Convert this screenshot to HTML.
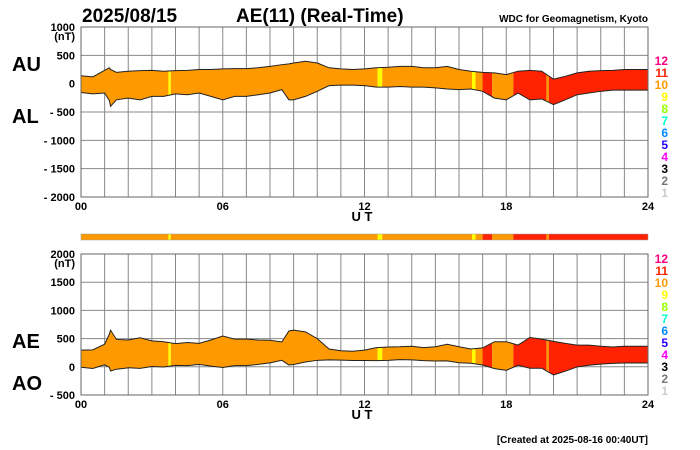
<!DOCTYPE html>
<html><head><meta charset="utf-8"><style>
body{margin:0;background:#fff}
svg{display:block;font-family:"Liberation Sans",Arial,sans-serif}
</style></head><body>
<svg id="c" width="700" height="450" viewBox="0 0 700 450">
<g id="g"></g>
</svg>
<script>
// ---- data (nT) ----
const times = [0,0.5,1,1.2,1.25,1.5,2,2.5,3,3.5,4,4.5,5,5.5,6,6.5,7,7.5,8,8.5,8.8,9,9.5,10,10.5,11,11.5,12,12.5,13,13.5,14,14.5,15,15.5,16,16.5,17,17.5,18,18.5,19,19.5,20,20.5,21,21.5,22,22.5,23,23.5,24];
const auValues = [140,120,235,280,250,200,220,230,235,220,230,235,250,250,260,265,265,280,305,335,350,365,395,365,280,260,250,260,280,290,305,305,280,280,305,250,220,200,190,160,220,235,220,80,130,190,220,230,235,250,250,250];
const alValues = [-155,-180,-165,-300,-400,-285,-255,-285,-225,-225,-180,-195,-165,-225,-285,-225,-225,-195,-165,-105,-285,-285,-225,-135,-35,-25,-25,-35,-60,-60,-50,-60,-60,-75,-95,-105,-95,-135,-255,-285,-165,-285,-270,-370,-285,-195,-165,-135,-115,-115,-115,-115];
const segStart = [0,3.7,3.8,12.55,12.75,16.55,16.7,17.0,17.4,18.3,19.7,19.8];
const segEnd   = [3.7,3.8,12.55,12.75,16.55,16.7,17.0,17.4,18.3,19.7,19.8,24];
const segStations = [10,9,10,9,10,9,10,11,10,11,10,11];
const topTicks = [1000,500,0,-500,-1000,-1500,-2000];
const topTickLabels = ["1000","500","0","- 500","- 1000","- 1500","- 2000"];
const botTicks = [2000,1500,1000,500,0,-500];
const botTickLabels = ["2000","1500","1000","500","0","- 500"];
const xTicks = [0,6,12,18,24];
const xTickLabels = ["00","06","12","18","24"];
const legendNums = [12,11,10,9,8,7,6,5,4,3,2,1];
const legendColors = ["#FF0080","#FF2200","#FF9900","#FFFF00","#99FF00","#00FFCC","#0088FF","#2200FF","#FF00FF","#000","#777","#ccc"];

const NS="http://www.w3.org/2000/svg";
const G=document.getElementById('g');
function el(t,a,p){const e=document.createElementNS(NS,t);for(const k in a)e.setAttribute(k,a[k]);(p||G).appendChild(e);return e;}
const X0=81,X1=648;
const x=h=>X0+(X1-X0)*h/24;
function yTop(v){return 27+(1000-v)*(197-27)/3000;}
function yBot(v){return 254+(2000-v)*(395-254)/2500;}
const stColor={9:"#FFFF00",10:"#FF9900",11:"#FF2200"};

function txt(s,xx,yy,opt,name){const t=el('text',Object.assign({x:xx,y:yy,'font-size':11,'font-weight':'bold',fill:'#000'},opt));t.textContent=s;

return t;}

function panel(id,yf,ticks,labels,gTop,gBot,upper,lower,legTop){
  const pg=el('g',{});
  
  
  for(let h=1;h<24;h++){const l=el('line',{x1:x(h),x2:x(h),y1:gTop,y2:gBot,stroke:'#888','stroke-width':1},pg);
    
    }
  ticks.forEach((v,i)=>{const yy=yf(v);
    const l=el('line',{x1:X0,x2:X1,y1:yy,y2:yy,stroke:'#888','stroke-width':1},pg);
    
    
    txt(labels[i],75,yy+4,{'text-anchor':'end'},'y-tick-label');});
  const pts=times.map((t,i)=>x(t)+','+yf(upper[i])).concat(times.map((t,i)=>x(t)+','+yf(lower[i])).reverse()).join(' ');
  segStart.forEach((s,i)=>{
    const cid=id+'clip'+i;
    const cp=el('clipPath',{id:cid},pg);
    el('rect',{x:x(s),y:gTop,width:x(segEnd[i])-x(s),height:gBot-gTop},cp);
    const p=el('polygon',{points:pts,fill:stColor[segStations[i]],'clip-path':'url(#'+cid+')'},pg);
    
    
  });
  const up=el('polyline',{points:times.map((t,i)=>x(t)+','+yf(upper[i])).join(' '),fill:'none',stroke:'#222','stroke-width':1},pg);
  
  
  const lo=el('polyline',{points:times.map((t,i)=>x(t)+','+yf(lower[i])).join(' '),fill:'none',stroke:'#222','stroke-width':1},pg);
  
  
  const fr=el('rect',{x:X0,y:gTop,width:X1-X0,height:gBot-gTop,fill:'none',stroke:'#666','stroke-width':1},pg);
  
  
  xTicks.forEach((h,i)=>txt(xTickLabels[i],x(h),gBot+13,{'text-anchor':'middle'},'x-tick-label'));
  txt('U T',362,gBot+24,{'font-size':13,'text-anchor':'middle'},'x-axis-title');
  txt('(nT)',75,gTop+13,{'text-anchor':'end'},'y-unit-label');
  legendNums.forEach((n,i)=>txt(String(n),668,legTop+i*12,{'text-anchor':'end','font-size':12,fill:legendColors[i]},'station-count-legend-'+n));
}
const aeValues=auValues.map((u,i)=>u-alValues[i]);
const aoValues=auValues.map((u,i)=>(u+alValues[i])/2);
panel('au-al',yTop,topTicks,topTickLabels,27,197,auValues,alValues,65);
panel('ae-ao',yBot,botTicks,botTickLabels,254,395,aeValues,aoValues,263);

segStart.forEach((s,i)=>{const r=el('rect',{x:x(s),y:234,width:x(segEnd[i])-x(s),height:6,fill:stColor[segStations[i]]});
  
  });
const cb=el('rect',{x:X0,y:234,width:X1-X0,height:6,fill:'none',stroke:'#999','stroke-width':0.5});



txt('2025/08/15',82,22,{'font-size':19},'chart-date-title');
txt('AE(11) (Real-Time)',236,22,{'font-size':19},'chart-title');
txt('WDC for Geomagnetism, Kyoto',648,22,{'font-size':10,'text-anchor':'end'},'source-label');
txt('AU',12,71,{'font-size':20},'au-label');
txt('AL',12,123,{'font-size':20},'al-label');
txt('AE',12,348,{'font-size':20},'ae-label');
txt('AO',12,390,{'font-size':20},'ao-label');
txt('[Created at 2025-08-16 00:40UT]',648,443,{'font-size':10,'text-anchor':'end'},'created-timestamp');
</script>
</body></html>
